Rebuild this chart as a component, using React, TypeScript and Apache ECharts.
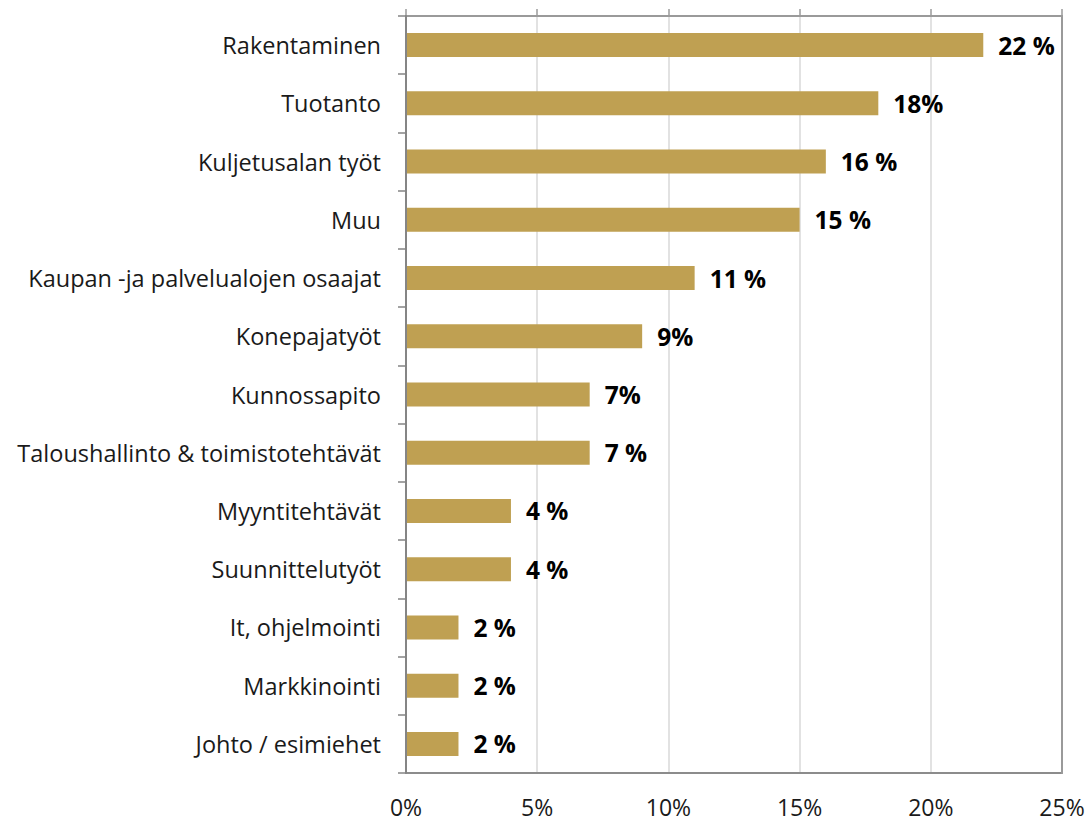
import React, { useEffect, useRef } from "react";
import * as echarts from "echarts";

const categories = [
  "Rakentaminen",
  "Tuotanto",
  "Kuljetusalan työt",
  "Muu",
  "Kaupan -ja palvelualojen osaajat",
  "Konepajatyöt",
  "Kunnossapito",
  "Taloushallinto & toimistotehtävät",
  "Myyntitehtävät",
  "Suunnittelutyöt",
  "It, ohjelmointi",
  "Markkinointi",
  "Johto / esimiehet",
];
const values = [22, 18, 16, 15, 11, 9, 7, 7, 4, 4, 2, 2, 2];
const valueLabels = ["22 %", "18%", "16 %", "15 %", "11 %", "9%", "7%", "7 %", "4 %", "4 %", "2 %", "2 %", "2 %"];
const xTicks = [0, 5, 10, 15, 20, 25];

export default function App() {
  const ref = useRef<HTMLDivElement>(null);
  useEffect(() => {
    document.body.style.margin = "0";
    const chart = echarts.init(ref.current!, null, { renderer: "svg" });
    const font = "'Open Sans', 'Liberation Sans', sans-serif";
    chart.setOption({
      animation: false,
      textStyle: { fontFamily: font },
      grid: {
        left: 406,
        right: 26,
        top: 16,
        bottom: 48,
        containLabel: false,
      },
      xAxis: [
        {
          type: "value",
          position: "bottom",
          min: xTicks[0],
          max: xTicks[xTicks.length - 1],
          interval: 5,
          axisLine: { show: true, onZero: false, lineStyle: { color: "#8c8c8c", width: 2 } },
          axisTick: { show: false },
          splitLine: {
            show: true,
            showMinLine: false,
            showMaxLine: false,
            lineStyle: { color: "#d9d9d9", width: 1.5 },
          },
          axisLabel: {
            formatter: "{value}%",
            fontSize: 23,
            color: "#1a1a1a",
            margin: 22,
            fontFamily: font,
          },
        },
        {
          type: "value",
          position: "top",
          min: xTicks[0],
          max: xTicks[xTicks.length - 1],
          interval: 5,
          axisLine: { show: true, onZero: false, lineStyle: { color: "#9a9a9a", width: 2 } },
          axisTick: { show: true, inside: false, length: 7, lineStyle: { color: "#9a9a9a", width: 1.5 } },
          splitLine: { show: false },
          axisLabel: { show: false },
        },
      ],
      yAxis: [
        {
          type: "category",
          data: categories,
          inverse: true,
          z: 3,
          axisLine: { show: true, onZero: false, lineStyle: { color: "#858585", width: 2 } },
          axisTick: { show: true, alignWithLabel: false, length: 8, lineStyle: { color: "#858585", width: 1.5 } },
          splitLine: { show: false },
          axisLabel: {
            fontSize: 23.5,
            color: "#1a1a1a",
            margin: 25,
            fontFamily: font,
          },
        },
        {
          type: "category",
          position: "right",
          data: categories,
          inverse: true,
          z: 3,
          axisLine: { show: true, onZero: false, lineStyle: { color: "#9a9a9a", width: 2 } },
          axisTick: { show: false },
          splitLine: { show: false },
          axisLabel: { show: false },
        },
      ],
      series: [
        {
          type: "bar",
          xAxisIndex: 0,
          yAxisIndex: 0,
          data: values,
          barWidth: 24,
          itemStyle: { color: "#BFA052" },
          label: {
            show: true,
            position: "right",
            distance: 15,
            fontSize: 24.5,
            fontWeight: "bold",
            color: "#000",
            fontFamily: font,
            formatter: (p: any) => valueLabels[p.dataIndex],
          },
        },
      ],
    });
    return () => chart.dispose();
  }, []);
  return <div ref={ref} style={{ width: 1088, height: 821 }} />;
}
